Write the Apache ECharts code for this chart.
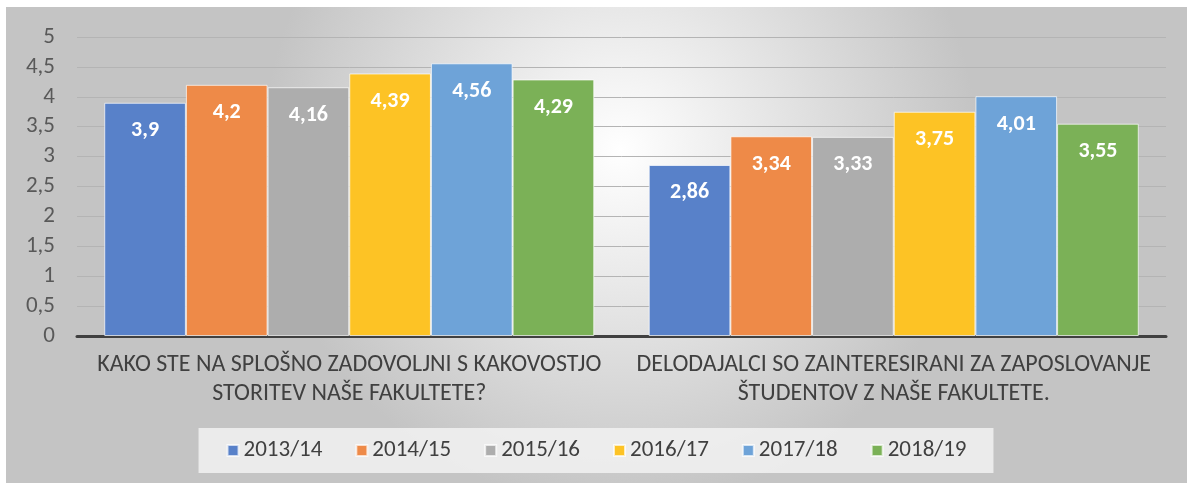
<!DOCTYPE html>
<html>
<head>
<meta charset="utf-8">
<script src="https://cdn.jsdelivr.net/npm/echarts@6/dist/echarts.min.js"></script>
<style>
  html, body { margin: 0; padding: 0; background: #fff; }
  #wrap { position: absolute; left: 6px; top: 7px; width: 1181px; height: 476px; }
  #chart { width: 100%; height: 100%; }
</style>
</head>
<body>
<div id="wrap"><div id="chart"></div></div>
<script>
// vprasanja (kategorije)
var categories = [
  'KAKO STE NA SPLOŠNO ZADOVOLJNI S KAKOVOSTJO\nSTORITEV NAŠE FAKULTETE?',
  'DELODAJALCI SO ZAINTERESIRANI ZA ZAPOSLOVANJE\nŠTUDENTOV Z NAŠE FAKULTETE.'
]
var years = ['2013/14', '2014/15', '2015/16', '2016/17', '2017/18', '2018/19']
var v2013 = [3.9, 2.86]
var v2014 = [4.2, 3.34]
var v2015 = [4.16, 3.33]
var v2016 = [4.39, 3.75]
var v2017 = [4.56, 4.01]
var v2018 = [4.29, 3.55]
var yTicks = { min: 0, max: 5, interval: 0.5 }

var values = [v2013, v2014, v2015, v2016, v2017, v2018]
var colors = ['#5881C9', '#EE8A48', '#ADADAD', '#FDC325', '#6EA3D8', '#7BB157']
var FONT = "Carlito, Lato, sans-serif"

function fmt(v) {
  return String(v).replace('.', ',')
}

var chart = echarts.init(document.getElementById('chart'))
chart.setOption({
  backgroundColor: new echarts.graphic.RadialGradient(0.52, 0.3, 0.75, [
    { offset: 0, color: '#ffffff' },
    { offset: 1, color: '#c4c4c4' }
  ]),
  textStyle: { fontFamily: FONT },
  animation: false,
  grid: { left: 71, right: 21, top: 30, bottom: 147 },
  legend: {
    bottom: 10,
    left: 'center',
    backgroundColor: 'rgba(242,242,242,0.85)',
    padding: [11, 27, 11, 28],
    itemWidth: 11,
    itemHeight: 11,
    itemGap: 33,
    icon: 'rect',
    textStyle: { fontSize: 23, color: '#404040', fontFamily: FONT },
    data: years
  },
  xAxis: {
    type: 'category',
    data: categories,
    axisLine: { lineStyle: { color: '#404040', width: 3 } },
    axisTick: { show: false },
    axisLabel: {
      fontSize: 24,
      lineHeight: 29,
      color: '#404040',
      margin: 14,
      interval: 0
    }
  },
  yAxis: {
    type: 'value',
    min: yTicks.min,
    max: yTicks.max,
    interval: yTicks.interval,
    axisLine: { show: false },
    axisTick: { show: false },
    splitLine: { lineStyle: { color: '#b4b4b4', width: 1 } },
    axisLabel: {
      fontSize: 23,
      color: '#595959',
      margin: 22,
      formatter: function (v) { return fmt(v) }
    }
  },
  series: years.map(function (name, i) {
    return {
      name: name,
      type: 'bar',
      data: values[i],
      barGap: '0%',
      barCategoryGap: '10%',
      itemStyle: {
        color: colors[i],
        borderColor: 'rgba(255,255,255,0.7)',
        borderWidth: 1
      },
      label: {
        show: true,
        position: 'insideTop',
        distance: 17,
        color: '#ffffff',
        fontWeight: 'bold',
        fontSize: 22,
        formatter: function (p) { return fmt(p.value) }
      }
    }
  })
})
</script>
</body>
</html>
